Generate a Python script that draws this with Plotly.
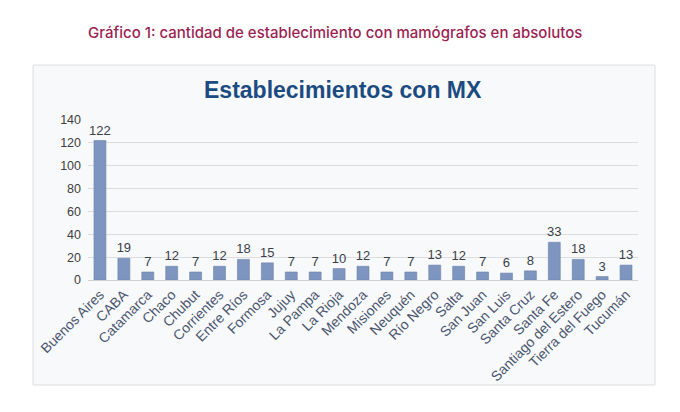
import plotly.graph_objects as go

provincias = ["Buenos Aires", "CABA", "Catamarca", "Chaco", "Chubut", "Corrientes",
              "Entre Ríos", "Formosa", "Jujuy", "La Pampa", "La Rioja", "Mendoza",
              "Misiones", "Neuquén", "Río Negro", "Salta", "San Juan", "San Luis",
              "Santa Cruz", "Santa Fe", "Santiago del Estero", "Tierra del Fuego", "Tucumán"]
establecimientos = [122, 19, 7, 12, 7, 12, 18, 15, 7, 7, 10, 12, 7, 7, 13, 12, 7, 6, 8, 33, 18, 3, 13]
y_ticks = [0, 20, 40, 60, 80, 100, 120, 140]

barras = go.Bar(
    x=provincias, y=establecimientos,
    marker=dict(color="#7e96bf", line=dict(color="#6a82ad", width=0.6)),
    width=0.5,
    text=establecimientos, textposition="outside", cliponaxis=False,
    constraintext="none",
    textfont=dict(family="Liberation Sans", size=13, color="#3a3f4a"),
)

fig = go.Figure(data=[barras])

# page has an 8px body margin; plot area lands at x 88..638, y 120..280 on the page
fig.update_layout(
    width=672, height=404,
    margin=dict(l=80, r=42, t=112, b=132),
    paper_bgcolor="white",
    plot_bgcolor="rgba(0,0,0,0)",
    showlegend=False,
    font=dict(family="Liberation Sans", color="#404040"),
    xaxis=dict(tickangle=-45, tickfont=dict(size=14, color="#4a5670"),
               showline=True, linecolor="#d0d0d0", ticks="", range=[-0.5, 22.5],
               automargin=False),
    yaxis=dict(range=[0, 140], tickvals=y_ticks, tickfont=dict(size=12.5, color="#404040"),
               showgrid=True, gridcolor="#dcdcdc", zeroline=False, ticks="",
               automargin=False, ticklabelstandoff=6),
    shapes=[dict(type="rect", xref="paper", yref="paper",
                 x0=(33 - 88) / 550, x1=(655 - 88) / 550,
                 y0=(280 - 385) / 160, y1=(280 - 65) / 160,
                 fillcolor="#f8f9fa", line=dict(color="#dedede", width=1), layer="below")],
    annotations=[
        dict(text="Gráfico 1: cantidad de establecimiento con mamógrafos en absolutos",
             xref="paper", yref="paper", x=(335 - 88) / 550, y=(280 - 32) / 160,
             xanchor="center", yanchor="middle",
             showarrow=False, font=dict(family="Inter", size=15, color="#9c1f52", weight=500)),
        dict(text="<b>Establecimientos con MX</b>",
             xref="paper", yref="paper", x=(343 - 88) / 550, y=(280 - 90) / 160,
             xanchor="center", yanchor="middle",
             showarrow=False, font=dict(family="Liberation Sans", size=23, color="#1c4b82")),
    ],
)

fig.write_html("out.html")
